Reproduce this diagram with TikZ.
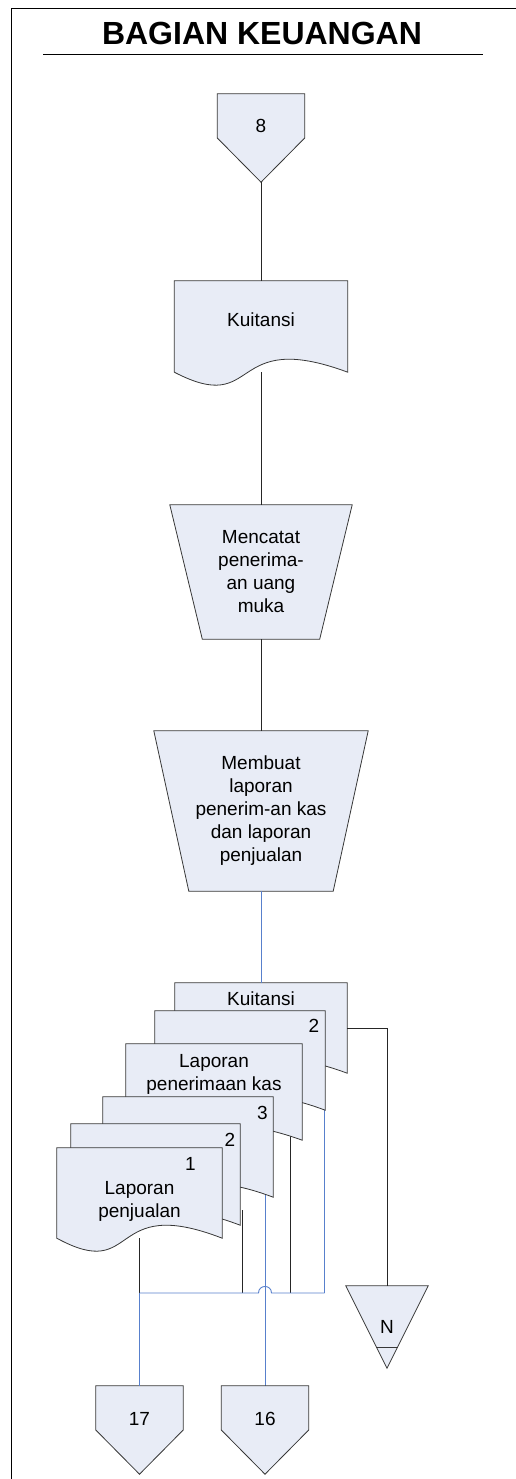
\documentclass[tikz,border=0pt]{standalone}
\usepackage{fontspec}
\setmainfont{Liberation Sans}
\usetikzlibrary{positioning, calc}
\pgfdeclarelayer{bg}
\pgfsetlayers{bg,main}
\definecolor{boxfill}{RGB}{232,236,246}
\definecolor{boxline}{RGB}{55,55,55}
\definecolor{flowblue}{RGB}{88,128,204}
\newcommand{\bodyfont}{\fontsize{19}{23}\selectfont}
\tikzset{
borderline/.style={draw=black, line width=0.9pt},
boxshape/.style={draw=boxline, fill=boxfill, line width=0.8pt},
flow/.style={draw=black!85, line width=0.8pt},
blueflow/.style={draw=flowblue, line width=0.9pt},
txt/.style={font=\bodyfont, align=center, inner sep=0pt},
titletext/.style={font=\fontsize{32}{36}\selectfont\bfseries, inner sep=0pt},
doc/.style 2 args={inner sep=0pt, minimum width=#1, minimum height=#2},
trap/.style 2 args={txt, minimum width=#1, minimum height=#2},
offpage/.style={txt, minimum width=87pt, minimum height=88pt, text height=14pt, text depth=24pt},
merge/.style={txt, minimum width=82pt, minimum height=82pt},
}
% outlines, drawn from the anchors of a node
\newcommand{\docshape}[1]{%
  \path[boxshape] (#1.north west) -- (#1.north east) -- (#1.south east)
    .. controls ($(#1.south west)!0.3!(#1.south east)+(0,-45)$)
           and ($(#1.south west)!0.5!(#1.south east)+(0,45)$) .. (#1.south west) -- cycle;}
\newcommand{\offshape}[1]{%
  \path[boxshape] (#1.north west) -- (#1.north east) -- (#1.east) -- (#1.south) -- (#1.west) -- cycle;}
\newcommand{\trapshape}[2]{%
  \path[boxshape] (#1.north west) -- (#1.north east) -- ($(#1.south east)+(-#2,0)$)
    -- ($(#1.south west)+(#2,0)$) -- cycle;}
\newcommand{\mergeshape}[1]{%
  \path[boxshape] (#1.north west) -- (#1.north east) -- (#1.south) -- cycle;
  \draw[draw=boxline, line width=0.8pt] ($(#1.south)!0.256!(#1.north west)$) -- ($(#1.south)!0.256!(#1.north east)$);}

\begin{document}
\begin{tikzpicture}[x=1pt, y=-1pt]
    \useasboundingbox (0,0) rectangle (516,1479);

    % frame and title
    \draw[borderline] (516,8) -- (11,8) -- (11,1479);
    \node[titletext] (title) at (262,33) {BAGIAN KEUANGAN};
    \draw[borderline] (43,54) -- (483,54);

    %nodes of the main column
    \node[offpage]                (p8) at (261,138) {8};
    \node[doc={173pt}{91pt}]    (kuit) at (261,326.5) { };
    \node[txt]                 (kuitt) at (261,320) {Kuitansi};
    \node[trap={182pt}{134pt}] (catat) at (261,572) {Mencatat\\penerima-\\an uang\\muka};
    \node[trap={214pt}{160pt}] (buat) at (261,811) {Membuat\\laporan\\penerim-an kas\\dan laporan\\penjualan};

    %nodes of the document stack, back to front
    \node[doc={172pt}{90pt}]    (docA) at (261,1028) { };
    \node[doc={170pt}{99pt}]    (docB) at (240,1060.5) { };
    \node[doc={176pt}{96pt}]    (docC) at (214,1092) { };
    \node[doc={170pt}{100pt}]   (docD) at (188,1147) { };
    \node[doc={169pt}{101pt}]   (docE) at (155.5,1174.5) { };
    \node[doc={165pt}{90pt}]    (docF) at (139.5,1193) { };

    \node[txt]   (docAt) at (261,998.5) {Kuitansi};
    \node[txt]   (numB) at (314,1026) {2};
    \node[txt]   (docCt) at (214,1074) {Laporan\\penerimaan kas};
    \node[txt]   (numD) at (262.5,1113) {3};
    \node[txt]   (numE) at (230,1140) {2};
    \node[txt]   (numF) at (190.5,1164) {1};
    \node[txt]   (docFt) at (139.5,1201) {Laporan\\penjualan};

    %nodes at the bottom
    \node[merge]   (mrg) at (387,1327) {N};
    \node[offpage] (p17) at (139.5,1430) {17};
    \node[offpage] (p16) at (265,1430) {16};

    %joints of the lines under the stack
    \coordinate (ja) at (139.5,1293);
    \coordinate (jb) at (242,1293);
    \coordinate (jc) at (265,1293);
    \coordinate (jd) at (290,1293);
    \coordinate (je) at (324.5,1293);
    \coordinate (sb) at (242,1210);

    \begin{pgfonlayer}{bg}
    % lines coming out from under the documents
    \draw[flow]     (docC.center -| jd) -- (jd);
    \draw[blueflow] (docD.center -| jc) -- (p16.north);
    \draw[blueflow] (docB.center -| je) -- (je);

    % outlines
    \offshape{p8}
    \docshape{kuit}
    \trapshape{catat}{32.5}
    \trapshape{buat}{35}
    \docshape{docA}
    \docshape{docB}
    \docshape{docC}
    \docshape{docD}
    \docshape{docE}
    \docshape{docF}
    \mergeshape{mrg}
    \offshape{p17}
    \offshape{p16}
    \end{pgfonlayer}

    % main column
    \draw[flow] (p8.south) -- (kuit.north);
    \draw[flow] (kuit.south) -- (catat.north);
    \draw[flow] (catat.south) -- (buat.north);
    \draw[blueflow] (buat.south) -- (docA.north);

    % to the merge
    \draw[flow] (docA.east) -| (mrg.north);

    % under the stack
    \draw[flow] (docF.south) -- (ja);
    \draw[flow] (sb) -- (jb);
    \draw[blueflow] (ja) -- ($(jc)+(-6.5,0)$)
        .. controls +(0,-8.7) and +(0,-8.7) .. ($(jc)+(6.5,0)$) -- (je);
    \draw[blueflow] (ja) -- (p17.north);

\end{tikzpicture}
\end{document}
